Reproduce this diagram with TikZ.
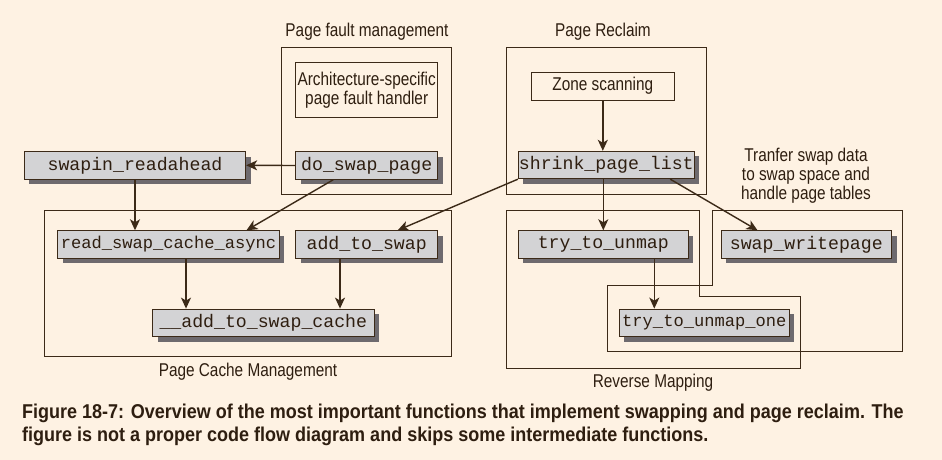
\documentclass[tikz,border=0pt]{standalone}
\usepackage{fontspec}
\usetikzlibrary{arrows.meta,shadows}
\newfontfamily\labfont[FakeStretch=0.83]{Liberation Sans}
\newfontfamily\capfont[FakeStretch=0.9]{Liberation Sans}
\newfontfamily\monofont{Liberation Mono}
\definecolor{bg}{HTML}{FEF2E3}
\definecolor{boxgray}{HTML}{D3D3D5}
\definecolor{shgray}{HTML}{6E6A6E}
\definecolor{ink}{HTML}{3C2A18}
\definecolor{txt}{HTML}{2E1E10}
\begin{document}
\begin{tikzpicture}[x=1pt,y=-1pt,
  fn/.style={draw=ink, line width=0.9pt, fill=boxgray, minimum height=27.5pt, inner sep=0pt,
    font={\monofont\fontsize{18.2}{20}\selectfont}, text=txt,
    drop shadow={shadow xshift=5pt, shadow yshift=-5pt, fill=shgray, opacity=1}},
  fnsmall/.style={font={\monofont\fontsize{17.1}{20}\selectfont}},
  plainbox/.style={draw=ink, line width=0.9pt, inner sep=0pt, text=txt,
    font={\labfont\fontsize{18.5}{19}\selectfont}, align=center},
  lab/.style={text=txt, font={\labfont\fontsize{18.5}{19}\selectfont}, align=center, inner sep=0pt},
  frame/.style={draw=ink, line width=0.9pt},
  arr/.style={draw=ink, line width=1.4pt, -{Stealth[length=11pt, width=10pt, inset=3pt]}}
]
\useasboundingbox[fill=bg] (0,0) rectangle (942,460);

% frames
\draw[frame] (281.7,47.7) rectangle (451.7,194);
\draw[frame] (506,47.7) rectangle (706.7,194.3);
\draw[frame] (44,210) rectangle (451.7,356.7);
\draw[frame] (506,210) -- (699,210) -- (699,296.7) -- (800.7,296.7) -- (800.7,368.3) -- (506,368.3) -- cycle;
\draw[frame] (712.3,210) -- (902.3,210) -- (902.3,351) -- (607.7,351) -- (607.7,285) -- (712.3,285) -- cycle;

% group labels
\node[lab] (lpfm) at (367,32) {Page fault management};
\node[lab] (lpr) at (603,32) {Page Reclaim};
\node[lab] (lpcm) at (248,372) {Page Cache Management};
\node[lab] (lrm) at (653,383) {Reverse Mapping};
\node[lab] (ltr) at (806,176) {Tranfer swap data\\to swap space and\\handle page tables};

% boxes
\node[plainbox, minimum width=142pt, minimum height=54.6pt] (arch) at (366.7,90) {Architecture-specific\\page fault handler};
\node[plainbox, minimum width=142.3pt, minimum height=27.7pt] (zone) at (602.8,86.2) {Zone scanning};

\node[fn, minimum width=221.4pt] (swapin) at (135,165.3) {swapin\_readahead};
\node[fn, minimum width=142pt] (doswap) at (366.7,165.5) {do\_swap\_page};
\node[fn, minimum width=176pt] (shrink) at (606.3,165) {shrink\_page\_list};
\node[fn, fnsmall, minimum width=221.6pt] (readswap) at (168.5,244.5) {read\_swap\_cache\_async};
\node[fn, minimum width=142pt] (addtoswap) at (366.7,244.5) {add\_to\_swap};
\node[fn, minimum width=221.3pt] (addcache) at (263.3,322.8) {\_\_add\_to\_swap\_cache};
\node[fn, minimum width=170pt] (unmap) at (603.3,244.5) {try\_to\_unmap};
\node[fn, minimum width=170.7pt] (swapwrite) at (806.3,244.5) {swap\_writepage};
\node[fn, fnsmall, minimum width=170pt] (unmapone) at (704.3,322.8) {try\_to\_unmap\_one};

% arrows
\draw[arr] (doswap.west) -- (swapin.east);
\draw[arr] (swapin.south) -- (swapin.south |- readswap.north);
\draw[arr] ([xshift=-33.4pt]doswap.south) -- ([xshift=78pt]readswap.north);
\draw[arr] (shrink.south west) -- ([xshift=31pt]addtoswap.north);
\draw[arr] (zone.south) -- (zone.south |- shrink.north);
\draw[arr] (unmap.north |- shrink.south) -- (unmap.north);
\draw[arr] ([xshift=64pt]shrink.south) -- ([xshift=37pt]swapwrite.north west);
\draw[arr] ([xshift=17.5pt]readswap.south) -- ([xshift=17.5pt]readswap.south |- addcache.north);
\draw[arr] ([xshift=-26.7pt]addtoswap.south) -- ([xshift=-26.7pt]addtoswap.south |- addcache.north);
\draw[arr] ([xshift=51pt]unmap.south) -- ([xshift=51pt]unmap.south |- unmapone.north);

% caption
\node[anchor=west, inner sep=0pt, align=left, text=txt,
  font={\capfont\bfseries\fontsize{20}{23.5}\selectfont}] (cap) at (22,425)
  {Figure 18-7: Overview of the most important functions that implement swapping and page reclaim. The\\
   figure is not a proper code flow diagram and skips some intermediate functions.};
\end{tikzpicture}
\end{document}
